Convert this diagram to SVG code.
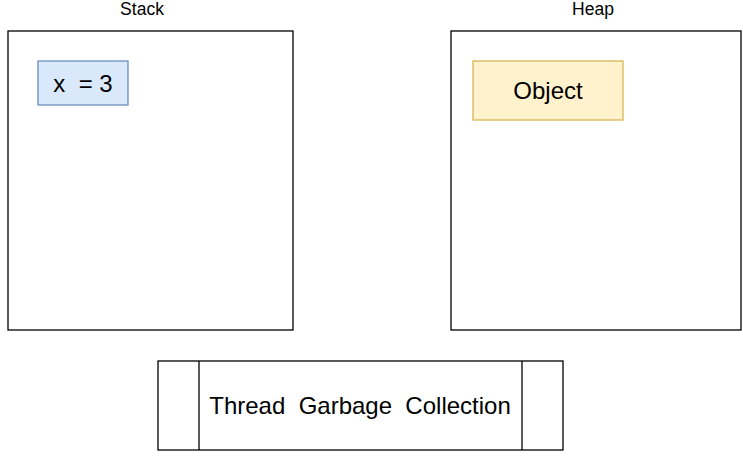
<svg xmlns="http://www.w3.org/2000/svg" width="743" height="458" viewBox="0 0 743 458">
<style>
text{font-family:"Liberation Sans",Arial,sans-serif;fill:#000;text-anchor:middle}
.box{fill:#fff;stroke:#000;stroke-width:1.3}
.lbl{font-size:17.5px}
.big{font-size:24px}
</style>
<rect width="743" height="458" fill="#fff"/>
<g id="stack">
<rect class="box" x="8" y="31" width="285" height="299"/>
<text class="lbl" x="142" y="15">Stack</text>
</g>
<g id="heap">
<rect class="box" x="451" y="31" width="290" height="299"/>
<text class="lbl" x="593" y="15">Heap</text>
</g>
<g id="x3">
<rect x="38" y="61" width="90" height="44" fill="#dae8fc" stroke="#6c8ebf" stroke-width="1.3"/>
<text class="big" x="83" y="92" xml:space="preserve">x  = 3</text>
</g>
<g id="object">
<rect x="473" y="61" width="150" height="59" fill="#fff2cc" stroke="#d6b656" stroke-width="1.3"/>
<text class="big" x="548" y="99">Object</text>
</g>
<g id="thread">
<rect class="box" x="158" y="361" width="405" height="89"/>
<line x1="199" y1="361" x2="199" y2="450" stroke="#000" stroke-width="1.3"/>
<line x1="522" y1="361" x2="522" y2="450" stroke="#000" stroke-width="1.3"/>
<text class="big" x="360" y="414" xml:space="preserve">Thread  Garbage  Collection</text>
</g>
<g id="connectors"></g>
</svg>
